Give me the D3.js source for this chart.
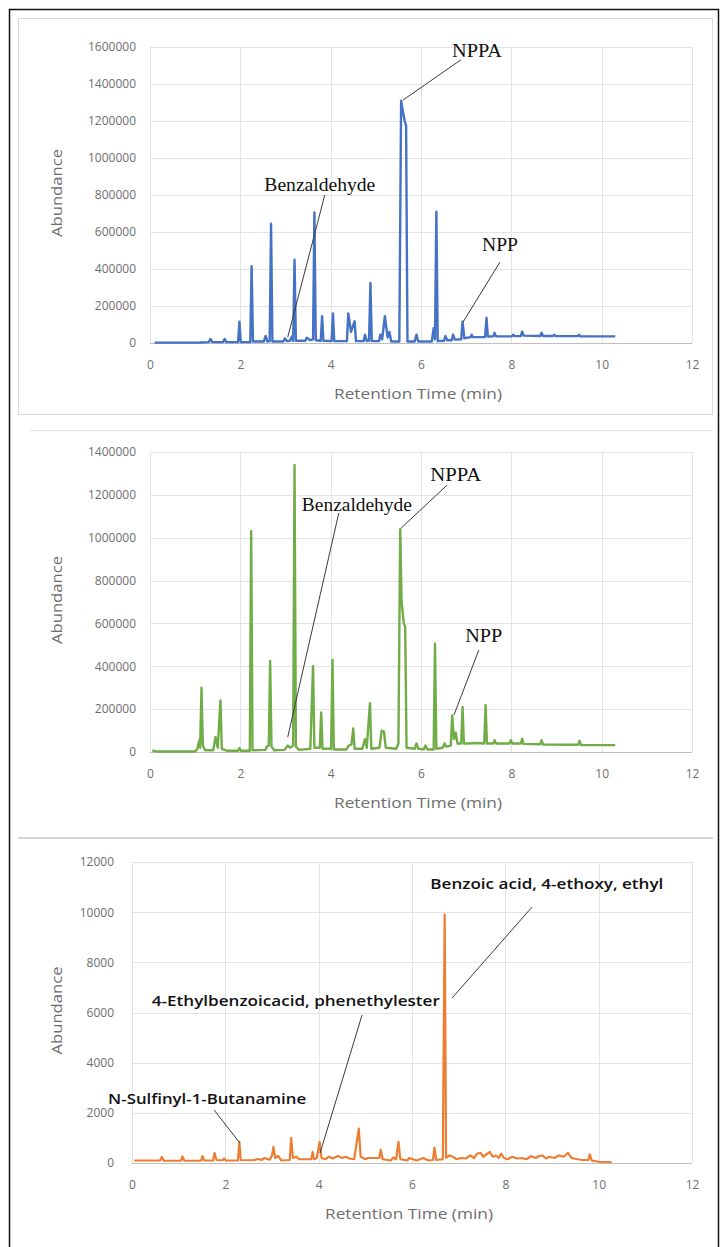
<!DOCTYPE html>
<html>
<head>
<meta charset="utf-8">
<script src="https://cdn.jsdelivr.net/npm/d3@7/dist/d3.min.js"></script>
<style>
  html, body { margin: 0; padding: 0; background: #fff; }
  svg { display: block; }
</style>
</head>
<body>
<svg id="chart" width="722" height="1247"></svg>
<script>
// ---- Chromatogram traces: [retention time (min), abundance] ----
const traceSampleA = [
  [0.10, 2000], [1.10, 3000], [1.30, 5000], [1.34, 22000], [1.38, 5000],
  [1.62, 5000], [1.65, 22000], [1.69, 5000], [1.95, 5000], [1.98, 115000],
  [2.01, 5000], [2.22, 5000], [2.25, 415000], [2.28, 8000], [2.52, 8000],
  [2.56, 38000], [2.60, 8000], [2.65, 10000], [2.68, 645000], [2.71, 8000],
  [2.95, 8000], [2.99, 25000], [3.03, 10000], [3.10, 12000], [3.14, 35000],
  [3.17, 12000], [3.20, 450000], [3.23, 12000], [3.44, 12000], [3.47, 28000],
  [3.55, 15000], [3.61, 20000], [3.64, 705000], [3.67, 15000], [3.78, 12000],
  [3.81, 145000], [3.84, 12000], [4.02, 10000], [4.05, 160000], [4.08, 10000],
  [4.36, 10000], [4.39, 160000], [4.45, 60000], [4.53, 118000], [4.56, 10000],
  [4.73, 10000], [4.76, 45000], [4.80, 10000], [4.85, 12000], [4.88, 325000],
  [4.91, 10000], [5.07, 10000], [5.10, 45000], [5.14, 20000], [5.20, 145000],
  [5.26, 30000], [5.30, 60000], [5.34, 8000], [5.52, 8000], [5.56, 1310000],
  [5.60, 1250000], [5.64, 1200000], [5.67, 1175000], [5.70, 8000], [5.86, 8000],
  [5.90, 45000], [5.94, 8000], [6.24, 8000], [6.28, 80000], [6.31, 20000],
  [6.34, 710000], [6.37, 10000], [6.51, 12000], [6.54, 38000], [6.58, 15000],
  [6.68, 15000], [6.71, 45000], [6.75, 18000], [6.89, 20000], [6.92, 115000],
  [6.96, 25000], [7.05, 30000], [7.10, 32000], [7.12, 45000], [7.15, 32000],
  [7.42, 32000], [7.45, 135000], [7.48, 35000], [7.60, 36000], [7.63, 55000],
  [7.66, 36000], [8.01, 36000], [8.04, 45000], [8.07, 37000], [8.21, 38000],
  [8.24, 62000], [8.27, 40000], [8.64, 38000], [8.67, 55000], [8.70, 38000],
  [8.92, 38000], [8.95, 44000], [8.98, 38000], [9.47, 37000], [9.50, 44000],
  [9.53, 36000], [10.27, 36000], [10.30, 35000]
];

const traceSampleB = [
  [0.05, 8000], [0.15, 2000], [1.00, 2000], [1.05, 15000], [1.09, 55000],
  [1.11, 20000], [1.14, 300000], [1.17, 30000], [1.22, 8000], [1.40, 8000],
  [1.45, 70000], [1.50, 20000], [1.56, 240000], [1.59, 15000], [1.70, 6000],
  [1.95, 6000], [1.98, 18000], [2.01, 6000], [2.21, 6000], [2.24, 1030000],
  [2.27, 8000], [2.55, 10000], [2.59, 25000], [2.63, 30000], [2.66, 425000],
  [2.69, 25000], [2.75, 8000], [2.98, 10000], [3.05, 30000], [3.10, 20000],
  [3.17, 30000], [3.20, 1340000], [3.23, 25000], [3.30, 10000], [3.55, 15000],
  [3.61, 400000], [3.64, 20000], [3.76, 20000], [3.79, 185000], [3.82, 15000],
  [4.01, 15000], [4.04, 430000], [4.07, 12000], [4.35, 12000], [4.40, 30000],
  [4.46, 35000], [4.50, 110000], [4.53, 15000], [4.70, 15000], [4.76, 60000],
  [4.80, 20000], [4.87, 228000], [4.90, 15000], [5.08, 20000], [5.13, 100000],
  [5.18, 95000], [5.22, 20000], [5.45, 15000], [5.50, 40000], [5.54, 1040000],
  [5.57, 700000], [5.62, 600000], [5.65, 585000], [5.68, 20000], [5.86, 15000],
  [5.90, 40000], [5.94, 15000], [6.06, 12000], [6.10, 30000], [6.14, 12000],
  [6.28, 12000], [6.31, 505000], [6.34, 15000], [6.48, 20000], [6.52, 40000],
  [6.56, 25000], [6.66, 30000], [6.69, 170000], [6.73, 60000], [6.77, 90000],
  [6.81, 40000], [6.89, 40000], [6.92, 210000], [6.95, 40000], [7.05, 40000],
  [7.20, 42000], [7.40, 40000], [7.43, 218000], [7.46, 40000], [7.60, 40000],
  [7.63, 55000], [7.66, 40000], [7.96, 40000], [7.99, 55000], [8.02, 40000],
  [8.21, 40000], [8.24, 62000], [8.27, 38000], [8.64, 36000], [8.67, 55000],
  [8.70, 35000], [9.48, 34000], [9.51, 52000], [9.54, 33000], [10.30, 32000]
];

const traceSampleC = [
  [0.05, 100], [0.60, 100], [0.64, 240], [0.68, 90], [1.05, 90], [1.08, 260],
  [1.12, 90], [1.48, 90], [1.51, 270], [1.55, 100], [1.74, 100], [1.77, 400],
  [1.81, 120], [1.94, 110], [1.97, 180], [2.01, 100], [2.27, 100], [2.30, 840],
  [2.33, 120], [2.60, 110], [2.70, 160], [2.78, 120], [2.84, 200], [2.95, 130],
  [3.00, 300], [3.03, 640], [3.07, 200], [3.13, 280], [3.20, 100], [3.38, 120],
  [3.41, 1000], [3.45, 200], [3.52, 250], [3.58, 150], [3.84, 150], [3.87, 440],
  [3.90, 150], [3.96, 200], [4.02, 840], [4.06, 200], [4.15, 150], [4.22, 250],
  [4.30, 180], [4.41, 280], [4.50, 200], [4.58, 250], [4.66, 180], [4.76, 150],
  [4.86, 1370], [4.90, 250], [5.00, 150], [5.05, 200], [5.15, 200], [5.30, 200],
  [5.33, 530], [5.37, 150], [5.55, 100], [5.60, 220], [5.66, 150], [5.71, 840],
  [5.75, 150], [5.90, 100], [5.94, 200], [6.10, 100], [6.24, 200], [6.35, 100],
  [6.45, 120], [6.48, 610], [6.52, 120], [6.66, 150], [6.70, 9900], [6.73, 200],
  [6.80, 300], [6.88, 250], [6.95, 150], [7.05, 200], [7.15, 180], [7.25, 300],
  [7.33, 200], [7.40, 380], [7.47, 400], [7.53, 250], [7.60, 350], [7.67, 440],
  [7.73, 250], [7.80, 300], [7.86, 200], [7.91, 370], [7.97, 200], [8.05, 150],
  [8.15, 250], [8.25, 180], [8.35, 200], [8.45, 150], [8.55, 270], [8.65, 200],
  [8.72, 280], [8.80, 300], [8.87, 180], [8.95, 250], [9.05, 200], [9.15, 300],
  [9.25, 250], [9.34, 400], [9.42, 200], [9.55, 150], [9.65, 120], [9.78, 120],
  [9.81, 345], [9.85, 100], [10.00, 50], [10.28, 30]
];

// ---- Axis ticks ----
const timeTicks = [0, 2, 4, 6, 8, 10, 12];
const abundanceTicksA = [0, 200000, 400000, 600000, 800000, 1000000, 1200000, 1400000, 1600000];
const abundanceTicksB = [0, 200000, 400000, 600000, 800000, 1000000, 1200000, 1400000];
const abundanceTicksC = [0, 2000, 4000, 6000, 8000, 10000, 12000];

// ---- Compound annotations (data units): label anchor, leader start, leader end ----
const peakLabelsA = [
  { name: "NPPA",         lt: 7.24, la: 1567000, t1: 6.88, a1: 1530000, t2: 5.60, a2: 1313000 },
  { name: "Benzaldehyde", lt: 3.76, la: 843000,  t1: 3.87, a1: 800000,  t2: 3.05, a2: 32000 },
  { name: "NPP",          lt: 7.75, la: 519000,  t1: 7.75, a1: 438000,  t2: 6.93, a2: 113000 }
];
const peakLabelsB = [
  { name: "NPPA",         lt: 6.77, la: 1283000, t1: 6.58, a1: 1246000, t2: 5.56, a2: 1045000 },
  { name: "Benzaldehyde", lt: 4.58, la: 1143000, t1: 4.18, a1: 1115000, t2: 3.05, a2: 70000 },
  { name: "NPP",          lt: 7.39, la: 532000,  t1: 7.28, a1: 476000,  t2: 6.73, a2: 173000 }
];
const peakLabelsC = [
  { name: "Benzoic acid, 4-ethoxy, ethyl",      lt: 8.89, la: 11080, t1: 8.57, a1: 10200, t2: 6.86, a2: 6580 },
  { name: "4-Ethylbenzoicacid, phenethylester", lt: 3.51, la: 6420,  t1: 4.93, a1: 5900,  t2: 4.03, a2: 400 },
  { name: "N-Sulfinyl-1-Butanamine",            lt: 1.61, la: 2510,  t1: 1.76, a1: 2110,  t2: 2.31, a2: 800 }
];

const svg = d3.select("#chart");

// Outer frame around the whole figure
svg.append("rect")
  .attr("x", 9.5).attr("y", 9.5).attr("width", 709).attr("height", 1260)
  .attr("fill", "none").attr("stroke", "#111").attr("stroke-width", 1.5);

// Chart-area outlines
svg.append("rect")
  .attr("x", 18.5).attr("y", 18.5).attr("width", 694).attr("height", 396)
  .attr("fill", "none").attr("stroke", "#dadada").attr("stroke-width", 1);
svg.append("line")
  .attr("x1", 30).attr("x2", 713).attr("y1", 430.5).attr("y2", 430.5)
  .attr("stroke", "#e2e2e2").attr("stroke-width", 1);
svg.append("line")
  .attr("x1", 18).attr("x2", 713).attr("y1", 838).attr("y2", 838)
  .attr("stroke", "#d6d6d6").attr("stroke-width", 2);

function drawPanel(opts) {
  const { trace, yTicks, yMax, labels, color, left, right, top, bottom, strokeW,
          tickPad, labelFont, labelSize, labelWeight, labelWidths } = opts;
  const x = d3.scaleLinear().domain([0, 12]).range([left, right]);
  const y = d3.scaleLinear().domain([0, yMax]).range([bottom, top]);
  const g = svg.append("g");

  // Gridlines
  g.append("g").selectAll("line.h").data(yTicks).join("line")
    .attr("x1", left).attr("x2", right)
    .attr("y1", d => Math.round(y(d)) + 0.5).attr("y2", d => Math.round(y(d)) + 0.5)
    .attr("stroke", d => d === 0 ? "#bfbfbf" : "#e3e3e3").attr("stroke-width", 1);
  g.append("g").selectAll("line.v").data(timeTicks).join("line")
    .attr("x1", d => Math.round(x(d)) + 0.5).attr("x2", d => Math.round(x(d)) + 0.5)
    .attr("y1", top).attr("y2", bottom)
    .attr("stroke", "#e3e3e3").attr("stroke-width", 1);

  // Axes (labels only)
  const yAxis = g.append("g").attr("transform", `translate(${left},0)`)
    .call(d3.axisLeft(y).tickValues(yTicks).tickSize(0).tickPadding(tickPad).tickFormat(d => String(d)));
  const xAxis = g.append("g").attr("transform", `translate(0,${bottom})`)
    .call(d3.axisBottom(x).tickValues(timeTicks).tickSize(0).tickPadding(17).tickFormat(d => String(d)));
  [yAxis, xAxis].forEach(a => {
    a.select(".domain").remove();
    a.selectAll("text")
      .attr("fill", "#6e6e6e")
      .style("font-family", "'Open Sans', 'Liberation Sans', sans-serif")
      .style("font-size", "12px");
  });

  // Axis titles
  g.append("text")
    .attr("x", (left + right) / 2 - 3).attr("y", bottom + 52)
    .attr("text-anchor", "middle").attr("dominant-baseline", "middle")
    .attr("fill", "#6e6e6e")
    .style("font-family", "'Open Sans', 'Liberation Sans', sans-serif")
    .style("font-size", "14px")
    .attr("textLength", 168).attr("lengthAdjust", "spacingAndGlyphs")
    .text("Retention Time (min)");
  g.append("text")
    .attr("transform", `translate(58,${(top + bottom) / 2 - 2}) rotate(-90)`)
    .attr("text-anchor", "middle").attr("dominant-baseline", "middle")
    .attr("fill", "#6e6e6e")
    .style("font-family", "'Open Sans', 'Liberation Sans', sans-serif")
    .style("font-size", "14px")
    .attr("textLength", 88).attr("lengthAdjust", "spacingAndGlyphs")
    .text("Abundance");

  // Trace
  const line = d3.line().x(d => x(d[0])).y(d => y(d[1]));
  g.append("path").datum(trace)
    .attr("d", line)
    .attr("fill", "none")
    .attr("stroke", color)
    .attr("stroke-width", strokeW)
    .attr("stroke-linejoin", "round");

  // Leader lines and compound names
  g.append("g").selectAll("line").data(labels).join("line")
    .attr("x1", d => x(d.t1)).attr("y1", d => y(d.a1))
    .attr("x2", d => x(d.t2)).attr("y2", d => y(d.a2))
    .attr("stroke", "#3a3a3a").attr("stroke-width", 1);
  g.append("g").selectAll("text").data(labels).join("text")
    .attr("x", d => x(d.lt)).attr("y", d => y(d.la))
    .attr("text-anchor", "middle").attr("dominant-baseline", "middle")
    .attr("fill", "#111")
    .style("font-family", labelFont)
    .style("font-size", labelSize + "px")
    .style("font-weight", labelWeight)
    .attr("textLength", (d, i) => labelWidths[i])
    .attr("lengthAdjust", "spacingAndGlyphs")
    .text(d => d.name);
}

drawPanel({
  trace: traceSampleA, yTicks: abundanceTicksA, yMax: 1600000, labels: peakLabelsA,
  color: "#4472C4", left: 150, right: 692, top: 47, bottom: 343, tickPad: 14, strokeW: 2.4,
  labelFont: "'Liberation Serif', 'Times New Roman', serif", labelSize: 18, labelWeight: "normal",
  labelWidths: [50, 111, 36]
});
drawPanel({
  trace: traceSampleB, yTicks: abundanceTicksB, yMax: 1400000, labels: peakLabelsB,
  color: "#70AD47", left: 150, right: 692, top: 452, bottom: 752, tickPad: 14, strokeW: 2.4,
  labelFont: "'Liberation Serif', 'Times New Roman', serif", labelSize: 18, labelWeight: "normal",
  labelWidths: [51, 110, 37]
});
drawPanel({
  trace: traceSampleC, yTicks: abundanceTicksC, yMax: 12000, labels: peakLabelsC,
  color: "#ED7D31", left: 132, right: 692, top: 862, bottom: 1163, tickPad: 18, strokeW: 2.2,
  labelFont: "'Open Sans', 'Liberation Sans', sans-serif", labelSize: 15, labelWeight: "600",
  labelWidths: [233, 288, 198]
});
</script>
</body>
</html>
